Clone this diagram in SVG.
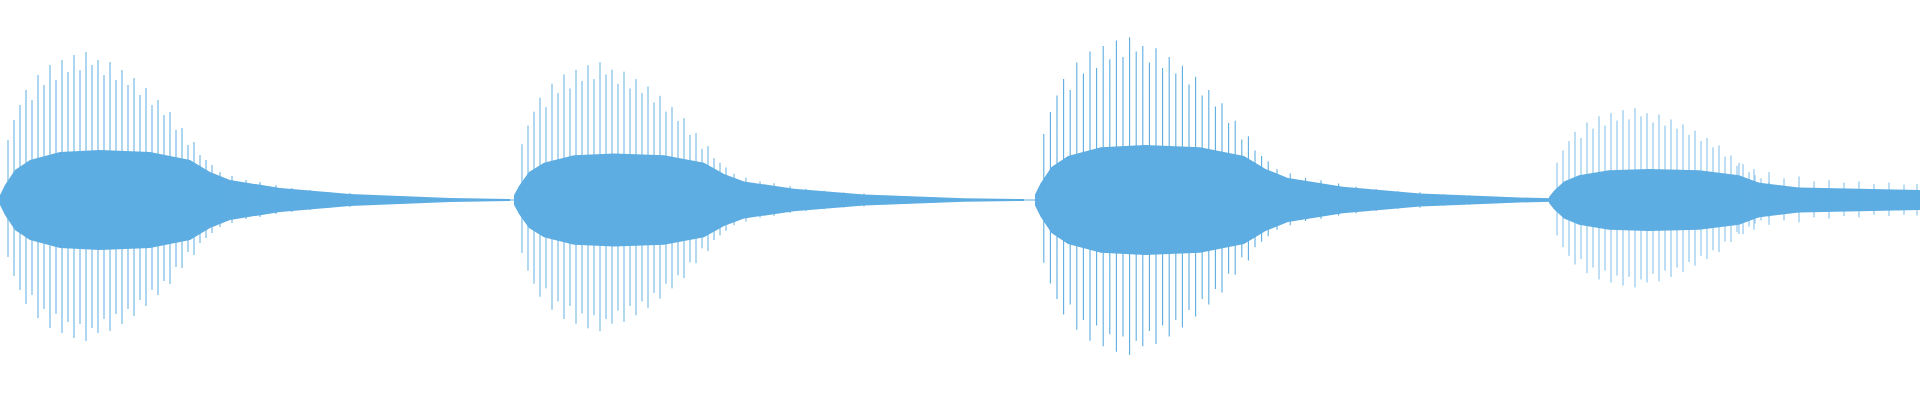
<svg xmlns="http://www.w3.org/2000/svg" xmlns:xlink="http://www.w3.org/1999/xlink" width="1920" height="400" viewBox="0 0 1920 400">
<style>.core{fill:#5dade2}.sp{stroke:#5dade2;stroke-width:1;fill:none}.base{stroke:#5dade2;stroke-width:1}</style>
<defs>
<polygon id="core" points="0,-5 5,-15 15,-30 30,-40 60,-48 100,-50 150,-48 190,-40 210,-28 230,-20 280,-12 350,-6 450,-2 510,-1 510,1 450,2 350,6 280,12 230,20 210,28 190,40 150,48 100,50 60,48 30,40 15,30 5,15 0,5"/>
<path id="sp" d="M8-60V57M14-80V76M20-95V90M26-110V104M32-100V95M38-125V118M44-115V109M50-135V128M56-120V114M62-140V133M68-128V122M74-145V138M80-130V124M86-148V141M92-135V128M98-140V133M104-125V119M110-138V131M116-120V114M122-130V124M128-115V109M134-122V116M140-105V100M146-112V106M152-95V90M158-100V95M164-85V81M170-88V84M176-70V67M182-72V68M188-55V52M194-58V55M200-45V43M206-40V38M212-35V33M220-28V27M232-24V23M246-20V19M260-18V17M276-15V14M292-12V12M310-10V10M330-8V8M350-7V7M372-5V5M395-4V4M420-3V3"/>
</defs>
<line class="base" x1="0" y1="200" x2="1920" y2="200"/>
<g id="burst1" transform="translate(0,200)"><use xlink:href="#core" class="core"/><use xlink:href="#sp" class="sp"/></g>
<g id="burst2" transform="translate(514,200) scale(1,0.93)"><use xlink:href="#core" class="core"/><use xlink:href="#sp" class="sp"/></g>
<g id="burst3" transform="translate(1035,200) scale(1.1,1.1)"><use xlink:href="#core" class="core"/><use xlink:href="#sp" class="sp"/></g>
<g id="burst4" transform="translate(1549,200) scale(1,0.62)"><use xlink:href="#core" class="core"/><use xlink:href="#sp" class="sp"/>
<polygon class="core" points="200,-30 250,-20 371,-16 371,16 250,20 200,30"/>
<path class="sp" d="M190-60V55M205-50V48M220-45V40M235-35V33M250-38V36M265-30V28M280-32V30M295-28V26M310-30V28M325-26V24M340-28V26M355-25V24M368-26V25"/></g>
</svg>
